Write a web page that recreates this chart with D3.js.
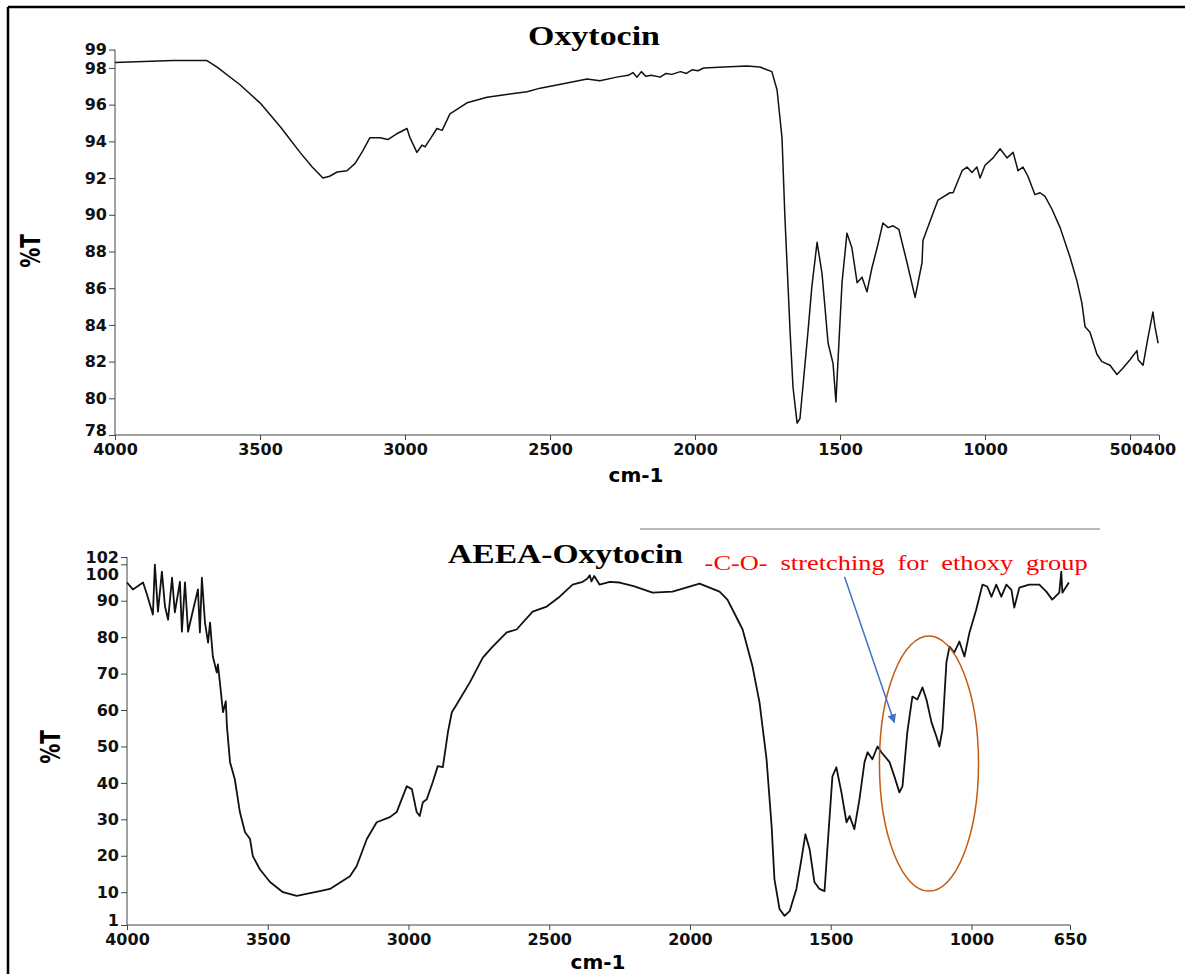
<!DOCTYPE html>
<html>
<head>
<meta charset="utf-8">
<script src="https://cdn.jsdelivr.net/npm/d3@7"></script>
<style>
  body { margin: 0; background: #fff; }
  svg { display: block; }
  .tick text { font-family: "DejaVu Sans", sans-serif; font-weight: bold; font-size: 16px; fill: #111; }
  .domain, .tick line { stroke: #444; }
</style>
</head>
<body>
<div id="chart"></div>
<script>
//oxytocin spectrum
var oxyWave = [4000,3900,3800,3683,3648,3570,3500,3430,3362,3320,3283,3260,3234,3200,3172,3145,3121,3086,3059,3030,2993,2983,2959,2941,2931,2910,2890,2872,2845,2786,2717,2650,2579,2534,2450,2372,2328,2270,2230,2214,2200,2185,2170,2150,2120,2100,2080,2050,2030,2010,1990,1970,1900,1821,1776,1735,1717,1700,1690,1672,1662,1648,1638,1610,1597,1579,1562,1541,1524,1514,1510,1493,1476,1459,1441,1424,1407,1390,1372,1352,1334,1317,1297,1269,1241,1217,1214,1179,1162,1121,1110,1079,1062,1045,1028,1017,1000,972,948,924,903,886,869,852,828,810,793,769,741,707,683,666,655,638,614,597,569,545,524,500,476,472,455,438,421,414,403];
var oxyT = [98.3,98.35,98.4,98.4,98.05,97.1,96.1,94.8,93.4,92.6,92.0,92.1,92.33,92.4,92.8,93.5,94.2,94.2,94.1,94.4,94.7,94.2,93.4,93.8,93.7,94.2,94.7,94.6,95.5,96.1,96.4,96.55,96.7,96.9,97.15,97.4,97.3,97.5,97.6,97.75,97.5,97.8,97.55,97.6,97.5,97.7,97.65,97.8,97.7,97.9,97.85,98.0,98.05,98.1,98.05,97.8,96.8,94.2,89.9,83.6,80.6,78.65,78.9,83.7,86.1,88.5,86.8,83.0,81.9,79.8,81.1,86.3,89.0,88.2,86.3,86.6,85.8,87.1,88.2,89.55,89.3,89.4,89.2,87.4,85.5,87.4,88.6,90.1,90.8,91.2,91.2,92.4,92.6,92.3,92.6,92.0,92.7,93.1,93.6,93.1,93.4,92.4,92.6,92.1,91.1,91.2,91.0,90.3,89.3,87.7,86.4,85.2,83.9,83.6,82.4,82.0,81.8,81.3,81.65,82.1,82.6,82.1,81.8,83.3,84.7,83.9,83.0];

//aeea-oxytocin spectrum
var aeeaWave = [4000,3979,3943,3929,3908,3901,3890,3876,3865,3854,3840,3830,3812,3805,3794,3783,3769,3748,3741,3734,3723,3712,3705,3695,3681,3677,3670,3659,3649,3645,3634,3617,3599,3581,3563,3553,3528,3492,3446,3397,3315,3279,3208,3184,3148,3113,3066,3042,3006,2988,2971,2960,2949,2935,2914,2896,2878,2860,2846,2829,2782,2736,2701,2651,2616,2559,2509,2463,2417,2381,2365,2356,2350,2340,2321,2285,2250,2200,2133,2062,1966,1895,1867,1849,1813,1778,1753,1728,1710,1700,1682,1664,1646,1622,1604,1590,1575,1558,1540,1522,1512,1494,1480,1462,1444,1433,1416,1398,1380,1369,1352,1334,1320,1291,1274,1256,1245,1228,1210,1192,1174,1160,1142,1125,1114,1103,1089,1078,1061,1043,1025,1007,983,961,944,929,912,894,876,858,848,830,795,759,734,713,688,681,677,663,654];
var aeeaT = [95.0,93.1,95,91.7,86.2,99.9,87,98,88.4,84.8,96.3,86.8,95.2,81.5,95,81.5,86.2,93.1,81.3,96.3,84,78.5,84,74.7,70.3,72.5,67.6,59.4,62.4,55.5,45.7,41,32,26.5,24.6,19.9,16.3,12.8,10,9.0,10.3,10.9,14.4,17.2,24.6,29.2,30.6,32,39.1,38.3,32,30.9,34.7,35.5,40.2,44.6,44.3,53.9,59.4,61.5,67.6,74.4,77.4,81.3,82.1,87,88.4,91.1,94.4,95.2,96,97,95.3,96.8,94.4,95.2,95,94,92.2,92.5,94.7,92.5,90.3,87.6,82.1,72,62.1,46.5,28.1,13.6,5.4,3.5,4.8,10.9,19.1,25.9,21.8,12.8,10.9,10.3,21.8,41.8,44.3,37.4,29.2,30.9,27.3,35.5,45.7,48.4,46.5,50,48.4,45.7,41.8,37.4,39.1,53.9,63.7,62.9,66.2,62.9,56.6,52.8,50,54.7,73.1,77.4,75.8,78.8,74.7,81.3,87.6,94.4,93.9,91.1,94.4,91.1,94.4,93,88.1,93.6,94.4,94.4,92.5,90.3,92.2,98,92.2,93.9,95];

//tick labels
var oxyXTicks = [4000,3500,3000,2500,2000,1500,1000,500,400];
var oxyYTicks = [99,98,96,94,92,90,88,86,84,82,80,78];
var aeeaXTicks = [4000,3500,3000,2500,2000,1500,1000,650];
var aeeaYTicks = [102,100,90,80,70,60,50,40,30,20,10,1];

//annotation, in data units of the lower plot
var noteText = "-C-O- stretching for ethoxy group";
var noteAt = [1948, 98.3];
var arrowFrom = [1451, 96.6];
var arrowTo = [1274, 56.6];
var ellipseCenter = [1151, 45.3];
var ellipseRadius = [176, 35];

var width = 1185;
var height = 974;

var svg = d3.select("#chart").append("svg")
  .attr("width", width)
  .attr("height", height);

svg.append("defs").append("marker")
  .attr("id", "arrowhead")
  .attr("viewBox", "0 0 10 10")
  .attr("refX", 9)
  .attr("refY", 5)
  .attr("markerWidth", 6)
  .attr("markerHeight", 6)
  .attr("orient", "auto")
  .append("path")
  .attr("d", "M0,0L10,5L0,10z")
  .attr("fill", "#4472c4");

//frame round the figure
svg.append("line").attr("x1", 8).attr("x2", 8).attr("y1", 7).attr("y2", height)
  .style("stroke", "#000").style("stroke-width", 2.5);
svg.append("line").attr("x1", 8).attr("x2", width).attr("y1", 7).attr("y2", 7)
  .style("stroke", "#000").style("stroke-width", 2.5);

function drawPanel(opt) {
  var x = d3.scaleLinear().domain(opt.xDomain).range([opt.left, opt.right]);
  var y = d3.scaleLinear().domain(opt.yDomain).range([opt.bottom, opt.top]);
  var g = svg.append("g");

  var xAxis = g.append("g")
    .attr("transform", "translate(0," + opt.bottom + ")")
    .call(d3.axisBottom(x).tickValues(opt.xTicks).tickSize(5).tickPadding(4).tickFormat(d3.format("d")));
  var yAxis = g.append("g")
    .attr("transform", "translate(" + opt.left + ",0)")
    .call(d3.axisLeft(y).tickValues(opt.yTicks).tickSize(6).tickPadding(2).tickFormat(d3.format("d")));
  xAxis.select(".domain").attr("d", "M" + opt.left + ",0H" + opt.right);
  yAxis.select(".domain").attr("d", "M0," + opt.bottom + "V" + y(opt.yDomain[1]));
  //lowest y label sits a little up so it clears the first x label
  yAxis.selectAll(".tick").filter(function(d) { return d == opt.yDomain[0]; }).select("text").attr("dy", "0.05em");
  if (opt.fixTicks) opt.fixTicks(xAxis, yAxis, x, y);

  var pts = opt.wave.map(function(w, i) { return [w, opt.values[i]]; });
  g.append("path")
    .datum(pts)
    .attr("fill", "none")
    .attr("stroke", "#111")
    .attr("stroke-width", opt.lineWidth)
    .attr("stroke-linejoin", "round")
    .attr("d", d3.line().x(function(d) { return x(d[0]); }).y(function(d) { return y(d[1]); }));

  g.append("text")
    .attr("x", opt.titleX)
    .attr("y", opt.titleY)
    .attr("textLength", opt.titleLength)
    .attr("lengthAdjust", "spacingAndGlyphs")
    .style("font-family", "'Liberation Serif', 'Times New Roman', serif")
    .style("font-weight", "bold")
    .style("font-size", "27px")
    .text(opt.title);

  g.append("text")
    .attr("transform", "translate(" + opt.yLabelX + "," + opt.yLabelY + ") rotate(-90) scale(1,1.35)")
    .attr("text-anchor", "middle")
    .attr("dy", "0.35em")
    .style("font-family", "'DejaVu Sans', sans-serif")
    .style("font-weight", "bold")
    .style("font-size", "20px")
    .text("%T");

  g.append("text")
    .attr("x", opt.xLabelX)
    .attr("y", opt.xLabelY)
    .attr("text-anchor", "middle")
    .style("font-family", "'DejaVu Sans', sans-serif")
    .style("font-weight", "bold")
    .style("font-size", "20px")
    .text("cm-1");

  return { x: x, y: y, g: g };
}

//upper plot: oxytocin
drawPanel({
  xDomain: [4000, 400], yDomain: [78, 99],
  left: 115, right: 1159, top: 49.6, bottom: 435,
  xTicks: oxyXTicks, yTicks: oxyYTicks,
  wave: oxyWave, values: oxyT, lineWidth: 1.5,
  title: "Oxytocin", titleX: 528, titleY: 45, titleLength: 132,
  yLabelX: 31, yLabelY: 251,
  xLabelX: 636, xLabelY: 482,
  fixTicks: function(xAxis) {
    //500 and 400 sit side by side, push 500 left of 400
    var t400 = xAxis.selectAll(".tick").filter(function(d) { return d == 400; }).select("text");
    var half = t400.node().getComputedTextLength() / 2;
    var x500 = xAxis.selectAll(".tick").filter(function(d) { return d == 500; });
    var gap = x500.datum() - 400;
    x500.select("text").attr("text-anchor", "end").attr("x", gap * (1159 - 115) / 3600 - half);
  }
});

//lower plot: aeea-oxytocin
var lower = drawPanel({
  xDomain: [4000, 650], yDomain: [1, 102],
  left: 127, right: 1070, top: 557, bottom: 925,
  xTicks: aeeaXTicks, yTicks: aeeaYTicks,
  wave: aeeaWave, values: aeeaT, lineWidth: 1.8,
  title: "AEEA-Oxytocin", titleX: 448, titleY: 563, titleLength: 235,
  yLabelX: 51, yLabelY: 747,
  xLabelX: 598, xLabelY: 969,
  fixTicks: function(xAxis, yAxis) {
    //100 label is nudged down off the 102 label
    yAxis.selectAll(".tick").filter(function(d) { return d == 100; }).select("text").attr("dy", "0.95em");
  }
});

//thin rule between the two plots
svg.append("line")
  .attr("x1", 640).attr("x2", 1100).attr("y1", 529).attr("y2", 529)
  .style("stroke", "#777").style("stroke-width", 1);

//annotation in the lower plot
var lx = lower.x, ly = lower.y;
lower.g.append("ellipse")
  .attr("cx", lx(ellipseCenter[0]))
  .attr("cy", ly(ellipseCenter[1]))
  .attr("rx", lx(ellipseCenter[0] - ellipseRadius[0]) - lx(ellipseCenter[0]))
  .attr("ry", ly(ellipseCenter[1] - ellipseRadius[1]) - ly(ellipseCenter[1]))
  .attr("fill", "none")
  .attr("stroke", "#c55a11")
  .attr("stroke-width", 1.5);

lower.g.append("line")
  .attr("x1", lx(arrowFrom[0])).attr("y1", ly(arrowFrom[1]))
  .attr("x2", lx(arrowTo[0])).attr("y2", ly(arrowTo[1]))
  .attr("stroke", "#4472c4")
  .attr("stroke-width", 1.5)
  .attr("marker-end", "url(#arrowhead)");

//red note: glyphs a bit wide, words spread to fill the original width
var stretch = 1.2;
var note = lower.g.append("text")
  .attr("transform", "translate(" + lx(noteAt[0]) + "," + ly(noteAt[1]) + ") scale(" + stretch + ",1)")
  .style("font-family", "'Liberation Serif', 'Times New Roman', serif")
  .style("font-size", "22px")
  .style("fill", "#ff0000")
  .text(noteText);
var natural = note.node().getComputedTextLength();
var gaps = noteText.split(" ").length - 1;
note.style("word-spacing", Math.max(0, (383 / stretch - natural) / gaps) + "px");
</script>
</body>
</html>
